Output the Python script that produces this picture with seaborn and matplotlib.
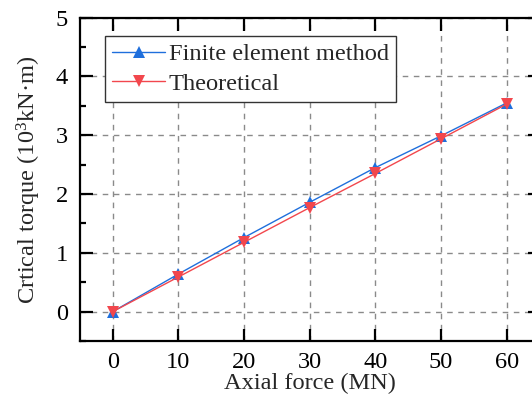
import matplotlib
matplotlib.use("Agg")
import matplotlib.pyplot as plt
import seaborn as sns
import pandas as pd
from matplotlib.ticker import MultipleLocator

# Axial force (MN) and critical torque (10^3 kN·m)
axial_force = [0, 10, 20, 30, 40, 50, 60]
fem_torque = [0.0, 0.64, 1.26, 1.86, 2.45, 2.99, 3.55]
theory_torque = [0.0, 0.59, 1.18, 1.77, 2.35, 2.94, 3.53]
series_names = ["Finite element method", "Theoretical"]
x_ticks = [0, 10, 20, 30, 40, 50, 60]
y_ticks = [0, 1, 2, 3, 4, 5]

FS = 17.6

sns.set_theme(style="ticks")
plt.rcParams["font.family"] = ["Liberation Serif", "DejaVu Serif"]
plt.rcParams["mathtext.fontset"] = "custom"
plt.rcParams["mathtext.rm"] = "Liberation Serif"
plt.rcParams["mathtext.it"] = "Liberation Serif:italic"

df = pd.DataFrame({
    "force": axial_force * 2,
    "torque": fem_torque + theory_torque,
    "series": [series_names[0]] * len(axial_force) + [series_names[1]] * len(axial_force),
})

fig = plt.figure(figsize=(5.32, 4.0), dpi=100)
ax = fig.add_axes([80 / 532, (400 - 341) / 400, (539.5 - 80) / 532, (341 - 17.7) / 400])

colors = {series_names[0]: "#1f6fdc", series_names[1]: "#f2474d"}
markers = {series_names[0]: "^", series_names[1]: "v"}
for name in series_names:
    sns.lineplot(data=df[df["series"] == name], x="force", y="torque", ax=ax,
                 color=colors[name], marker=markers[name], markersize=8.5,
                 markeredgewidth=0, linewidth=1.0, label=name, zorder=3)

ax.set_xlim(-5, 65)
ax.set_ylim(-0.5, 5)
ax.set_xticks(x_ticks)
ax.set_yticks(y_ticks)
ax.yaxis.set_minor_locator(MultipleLocator(0.5))

ax.grid(True, which="major", color="#8a8a8a", linestyle=(0, (4, 4)), linewidth=1.0)
ax.set_axisbelow(True)

for side in ["left", "right", "top", "bottom"]:
    ax.spines[side].set_linewidth(1.6)
    ax.spines[side].set_color("black")

ax.tick_params(which="major", direction="in", length=9, width=1.6,
               top=True, right=True, labelsize=FS, colors="black")
ax.tick_params(axis="x", which="major", pad=8.0)
ax.tick_params(axis="y", which="major", pad=8.5)
ax.tick_params(which="minor", direction="in", length=4.5, width=1.6,
               left=True, right=True, colors="black")
ax.tick_params(axis="x", which="minor", bottom=False, top=False)

ax.set_ylabel("Crtical torque (10$^{3}$kN·m)", fontsize=FS, labelpad=9)
ax.set_xlabel("Axial force (MN)", fontsize=FS)
ax.xaxis.set_label_coords(0.5, -0.1)

leg = ax.legend(loc="upper left", bbox_to_anchor=(25 / 459.5, 1 - 18 / 323.3),
                fontsize=FS, frameon=True, fancybox=False, framealpha=1,
                edgecolor="#333333", handlelength=2.15, handletextpad=0.15,
                borderpad=0.3, labelspacing=0.3, borderaxespad=0)
leg.get_frame().set_linewidth(1.0)

fig.savefig("out.png", dpi=100)
